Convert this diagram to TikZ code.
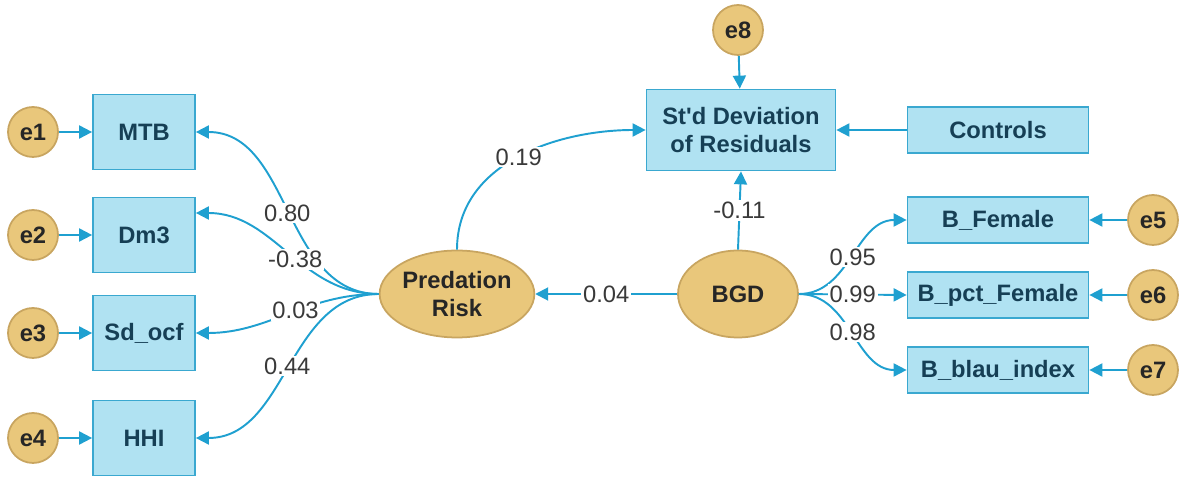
\documentclass[tikz,border=0pt]{standalone}
\usepackage{fontspec}
\setmainfont{Liberation Sans}
\usetikzlibrary{arrows.meta,shapes.geometric}
\definecolor{boxfill}{HTML}{B0E2F2}
\definecolor{boxline}{HTML}{3AA8D0}
\definecolor{arrowcol}{HTML}{1FA0D0}
\definecolor{latfill}{HTML}{E9C77B}
\definecolor{latline}{HTML}{C8A560}
\definecolor{boxtext}{HTML}{163F55}
\definecolor{lbltext}{HTML}{3A3A3A}

\begin{document}
\begin{tikzpicture}[
    x=0.02cm, y=-0.02cm,
    every node/.style={font=\fontsize{13.5}{15.5}\selectfont},
    box/.style={draw=boxline, line width=1pt, fill=boxfill, align=center, text=boxtext, font=\fontsize{13.5}{15.5}\selectfont\bfseries, minimum width=3.62cm, minimum height=0.92cm},
    latent/.style={ellipse, draw=latline, line width=1pt, fill=latfill, align=center, text=black!85, font=\fontsize{13.5}{15.5}\selectfont\bfseries, minimum width=2.4cm, minimum height=1.74cm, inner sep=0pt},
    err/.style={circle, draw=latline, line width=1pt, fill=latfill, text=black!85, font=\fontsize{13.5}{15.5}\selectfont\bfseries, minimum size=1cm, inner sep=0pt},
    flow/.style={-{Triangle[length=2.6mm, width=2.6mm]}, line width=1.1pt, draw=arrowcol},
    lbl/.style={fill=white, inner sep=1pt, text=lbltext, font=\fontsize{13.5}{15.5}\selectfont}
]
\useasboundingbox (0,0) rectangle (1188,479);

% indicators of predation risk
\node[box, minimum width=2.04cm, minimum height=1.5cm] (mtb) at (144,132) {MTB};
\node[box, minimum width=2.04cm, minimum height=1.5cm] (dm3) at (144,235) {Dm3};
\node[box, minimum width=2.04cm, minimum height=1.5cm] (sdocf) at (144,333) {Sd\_ocf};
\node[box, minimum width=2.04cm, minimum height=1.5cm] (hhi) at (144,438) {HHI};
\node[err] (e1) at (33,132) {e1};
\node[err] (e2) at (33,235) {e2};
\node[err] (e3) at (33,333) {e3};
\node[err] (e4) at (33,438) {e4};

% latent variables
\node[latent] (pred) at (457,294) {Predation\\Risk};
\node[latent] (bgd) at (738,294) {BGD};

% outcome
\node[box, minimum width=3.78cm, minimum height=1.62cm] (std) at (741,130) {St\textquotesingle d Deviation\\of Residuals};
\node[err] (e8) at (738,30) {e8};
\node[box] (ctrl) at (998,130) {Controls};

% indicators of BGD
\node[box] (bfem) at (998,220) {B\_Female};
\node[box] (bpct) at (998,295) {B\_pct\_Female};
\node[box] (bblau) at (998,370) {B\_blau\_index};
\node[err] (e5) at (1153,220) {e5};
\node[err] (e6) at (1153,295) {e6};
\node[err] (e7) at (1153,370) {e7};

\draw[flow] (e1) -- (mtb);
\draw[flow] (e2) -- (dm3);
\draw[flow] (e3) -- (sdocf);
\draw[flow] (e4) -- (hhi);
\draw[flow] (pred.west) to[out=180, in=0] node[lbl, pos=0.5] {0.80} (mtb.east);
\draw[flow] (pred.west) to[out=180, in=0] node[lbl, pos=0.45] {-0.38} ([yshift=0.44cm]dm3.east);
\draw[flow] (pred.west) to[out=180, in=0] node[lbl, pos=0.45] {0.03} (sdocf.east);
\draw[flow] (pred.west) to[out=180, in=0] node[lbl, pos=0.5] {0.44} (hhi.east);

\draw[flow] (pred.north) to[out=90, in=180] node[lbl, pos=0.5] {0.19} (std.west);
\draw[flow] (bgd.west) -- node[lbl] {0.04} (pred.east);
\draw[flow] (bgd.north) -- node[lbl] {-0.11} (std.south);
\draw[flow] (e8) -- (std);
\draw[flow] (ctrl) -- (std);

\draw[flow] (bgd.east) to[out=0, in=180] node[lbl, pos=0.5] {0.95} (bfem.west);
\draw[flow] (bgd.east) -- node[lbl] {0.99} (bpct.west);
\draw[flow] (bgd.east) to[out=0, in=180] node[lbl, pos=0.5] {0.98} (bblau.west);
\draw[flow] (e5) -- (bfem);
\draw[flow] (e6) -- (bpct);
\draw[flow] (e7) -- (bblau);
\end{tikzpicture}
\end{document}
